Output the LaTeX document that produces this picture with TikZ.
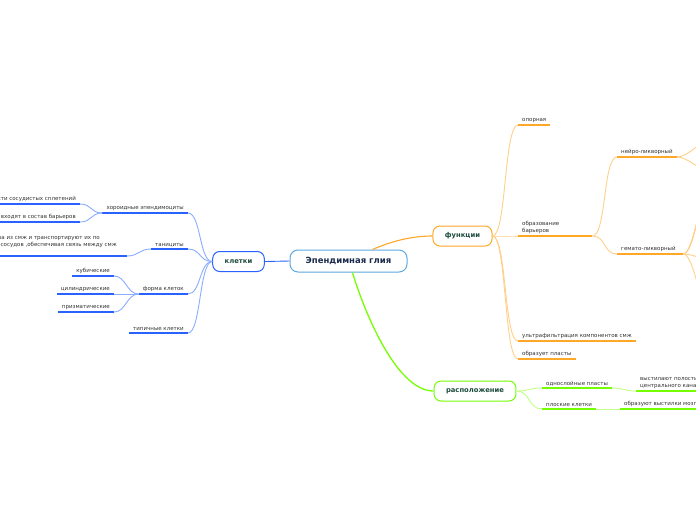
\documentclass[tikz,border=0pt]{standalone}
\usepackage{fontspec}
\setmainfont{DejaVu Sans}
\definecolor{bU}{HTML}{2962FF}
\definecolor{bL}{HTML}{8AAEFF}
\definecolor{oU}{HTML}{FFA726}
\definecolor{oL}{HTML}{FFD08A}
\definecolor{gU}{HTML}{76FF03}
\definecolor{gL}{HTML}{C4FF8A}
\definecolor{rootB}{HTML}{5DA9E0}
\definecolor{rootT}{HTML}{1A2B4C}
\definecolor{mainT}{HTML}{1D4D3F}
\definecolor{txt}{HTML}{333333}
\tikzset{
  rootbox/.style={draw=rootB, line width=1pt, rounded corners=8pt, fill=white,
    minimum width=117pt, minimum height=22pt,
    font=\fontsize{8.5}{10}\selectfont\bfseries, text=rootT},
  mainbox/.style={draw=#1, line width=1pt, rounded corners=7pt, fill=white,
    minimum height=20pt, inner xsep=12pt,
    font=\fontsize{6.8}{8}\selectfont\bfseries, text=mainT},
  topic/.style={font=\fontsize{5.5}{7}\selectfont, text=txt, inner xsep=4pt,
    inner ysep=2pt, align=left,
    append after command={(\tikzlastnode.south west) edge[draw=#1, line width=1.8pt] (\tikzlastnode.south east)}},
  con/.style={draw=#1, line width=0.9pt},
}
\begin{document}
\begin{tikzpicture}[x=1pt,y=-1pt]
\useasboundingbox (0,0) rectangle (696,520);
\clip (0,0) rectangle (696,520);
\fill[white] (0,0) rectangle (696,520);

% main nodes
\node[rootbox] (root) at (348.5,261) {Эпендимная глия};
\node[mainbox=bU] (kl) at (238.5,261.5) {клетки};
\node[mainbox=oU] (fn) at (462.5,236) {функции};
\node[mainbox=gU] (rs) at (475,391) {расположение};

% left branch
\node[topic=bU, anchor=south east] (hor) at (188,213) {хороидные эпендимоциты};
\node[topic=bU, anchor=south east] (hor1) at (80,204) {покрывают поверхности сосудистых сплетений};
\node[topic=bU, anchor=south east] (hor2) at (80,222) {и входят в состав барьеров};
\node[topic=bU, anchor=south east] (tan) at (188,249) {танициты};
\node[topic=bU, anchor=south east, inner ysep=8pt] (tan1) at (127,256) {активно поглощают вещества из смж и транспортируют их по\\своим отросткам достигают сосудов ,обеспечивая связь между смж\hspace*{6pt}};
\node[topic=bU, anchor=south east] (form) at (188,294) {форма клеток};
\node[topic=bU, anchor=south east] (kub) at (114,276) {кубические};
\node[topic=bU, anchor=south east] (cyl) at (114,294) {цилиндрические};
\node[topic=bU, anchor=south east] (pri) at (114,312) {призматические};
\node[topic=bU, anchor=south east] (typ) at (188,333) {типичные клетки};

% right branch (orange)
\node[topic=oU, anchor=south west] (op) at (518,125) {опорная};
\node[topic=oU, anchor=south west, text width=66pt] (bar) at (518,236) {образование\\барьеров};
\node[topic=oU, anchor=south west] (nei) at (617,157) {нейро-ликворный};
\node[topic=oU, anchor=south west, text width=58pt] (gem) at (617,254) {гемато-ликворный};
\node[topic=oU, anchor=south west] (ult) at (518,341) {ультрафильтрация компонентов смж};
\node[topic=oU, anchor=south west] (pla) at (518,359) {образует пласты};

% green branch
\node[topic=gU, anchor=south west] (odn) at (542,388) {однослойные пласты};
\node[topic=gU, anchor=south west] (vys) at (636,391) {выстилают полости желудочков\\центрального канала спинного мозга};
\node[topic=gU, anchor=south west] (plo) at (542,409) {плоские клетки};
\node[topic=gU, anchor=south west] (obr) at (620,409) {образуют выстилки мозговых оболочек};

% off-canvas ends
\coordinate (n1) at (712,140);
\coordinate (n2) at (712,172);
\coordinate (g1) at (712,182);
\coordinate (g2) at (716,168);
\coordinate (g3) at (720,154);
\coordinate (g4) at (720,263);
\coordinate (g5) at (716,330);

% root connectors
\draw[con=bU] (root.west) -- (kl.east);
\draw[con=oU, line width=1.1pt] ([xshift=24pt]root.north) .. controls (392,241) and (412,236) .. (fn.west);
\draw[con=gU, line width=1.3pt] ([xshift=4pt]root.south) .. controls (362,305) and (395,391) .. (rs.west);

% left connectors
\foreach \t in {hor,tan,form,typ}
  \draw[con=bL] (kl.west) .. controls +(-13,0) and +(13,0) .. (\t.south east);
\foreach \t in {hor1,hor2}
  \draw[con=bL] (hor.south west) .. controls +(-12,0) and +(12,0) .. (\t.south east);
\draw[con=bL] (tan.south west) .. controls +(-12,0) and +(12,0) .. (tan1.south east);
\foreach \t in {kub,cyl,pri}
  \draw[con=bL] (form.south west) .. controls +(-12,0) and +(12,0) .. (\t.south east);

% orange connectors
\foreach \t in {op,bar,ult,pla}
  \draw[con=oL] (fn.east) .. controls +(14,0) and +(-14,0) .. (\t.south west);
\foreach \t in {nei,gem}
  \draw[con=oL] (bar.south east) .. controls +(14,0) and +(-14,0) .. (\t.south west);
\foreach \t in {n1,n2}
  \draw[con=oL] (nei.south east) .. controls +(12,0) and +(-12,0) .. (\t);
\foreach \t in {g1,g2,g3,g4,g5}
  \draw[con=oL] (gem.south east) .. controls +(12,0) and +(-12,0) .. (\t);

% green connectors
\foreach \t in {odn,plo}
  \draw[con=gL] (rs.east) .. controls +(14,0) and +(-14,0) .. (\t.south west);
\draw[con=gL] (odn.south east) .. controls +(12,0) and +(-12,0) .. (vys.south west);
\draw[con=gL] (plo.south east) .. controls +(12,0) and +(-12,0) .. (obr.south west);
\end{tikzpicture}
\end{document}
